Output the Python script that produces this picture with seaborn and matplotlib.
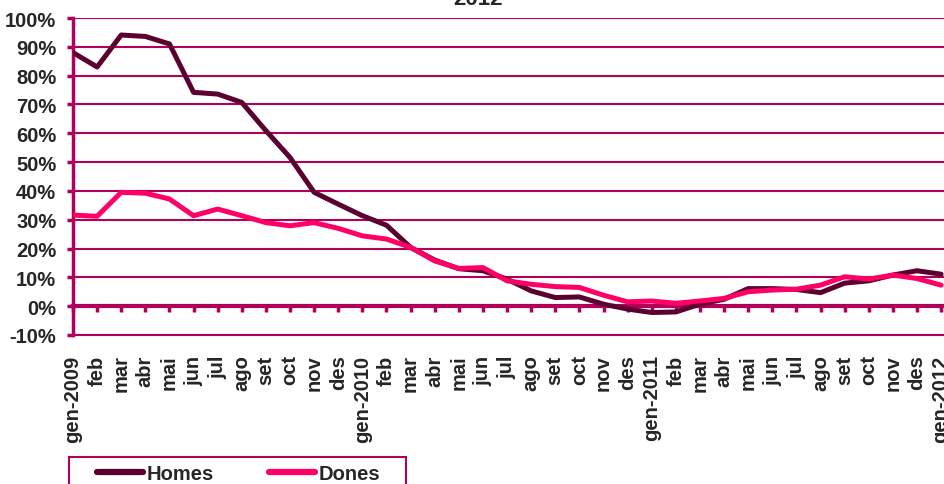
import pandas as pd
import seaborn as sns
import matplotlib.pyplot as plt
from matplotlib.patches import Rectangle

months = ['gen-2009', 'feb', 'mar', 'abr', 'mai', 'jun', 'jul', 'ago', 'set', 'oct', 'nov', 'des',
          'gen-2010', 'feb', 'mar', 'abr', 'mai', 'jun', 'jul', 'ago', 'set', 'oct', 'nov', 'des',
          'gen-2011', 'feb', 'mar', 'abr', 'mai', 'jun', 'jul', 'ago', 'set', 'oct', 'nov', 'des',
          'gen-2012']

homes = [88.0, 83.0, 94.1, 93.6, 91.0, 74.2, 73.6, 70.7, 60.9, 51.6, 39.5, 35.4,
         31.4, 28.1, 20.4, 16.0, 13.0, 12.3, 9.4, 5.3, 3.0, 3.2, 0.7, -1.0,
         -2.2, -2.0, 0.7, 2.4, 6.1, 6.1, 5.8, 4.7, 8.0, 8.8, 10.8, 12.3,
         11.1]

dones = [31.6, 31.2, 39.5, 39.2, 37.2, 31.4, 33.7, 31.4, 29.0, 27.9, 29.0, 27.0,
         24.4, 23.3, 20.4, 15.7, 13.1, 13.4, 8.8, 7.6, 6.8, 6.5, 3.8, 1.5,
         1.8, 1.0, 1.8, 2.7, 5.0, 5.6, 5.9, 7.3, 10.2, 9.4, 10.8, 9.6,
         7.3]

title = '2012'
series_names = ['Homes', 'Dones']
colors = ['#5C0030', '#FF0066']
crimson = '#B0005A'
fs = 14.5

x = list(range(len(months)))
df = pd.DataFrame({
    'x': x * 2,
    'val': homes + dones,
    'serie': ['Homes'] * len(x) + ['Dones'] * len(x),
})

sns.set_style('white')
plt.rcParams['font.family'] = ['Liberation Sans', 'DejaVu Sans']
plt.rcParams['font.weight'] = 'bold'

fig = plt.figure(figsize=(9.44, 4.85), dpi=100)
ax = fig.add_axes([73 / 944, (485 - 336) / 485, 1 - 73 / 944, (336 - 19) / 485])

sns.lineplot(data=df, x='x', y='val', hue='serie', hue_order=series_names,
             palette=colors, linewidth=3.6, ax=ax, zorder=3)

ax.set_xlim(0, 36.12)
ax.set_ylim(-10, 100)
ax.set_yticks(range(-10, 101, 10))
ax.set_yticklabels([f'{v}%' for v in range(-10, 101, 10)], fontsize=fs, fontweight='bold')
ax.yaxis.grid(True, color=crimson, linewidth=1.5)
ax.tick_params(axis='y', length=4, width=2.5, color=crimson, pad=8, left=True)
ax.set_xlabel('')
ax.set_ylabel('')

# bottom frame line at -10% carries the labels
for s in ['top', 'right']:
    ax.spines[s].set_visible(False)
ax.spines['left'].set_color(crimson)
ax.spines['left'].set_linewidth(2.5)
ax.spines['bottom'].set_color(crimson)
ax.spines['bottom'].set_linewidth(1.5)
ax.set_xticks(x)
ax.set_xticklabels(months, rotation=90, fontsize=fs, fontweight='bold', va='top')
ax.tick_params(axis='x', length=0, pad=14)

# zero axis with tick marks
zero = ax.secondary_xaxis(10 / 110)
zero.set_xticks(x)
zero.set_xticklabels([])
zero.spines['bottom'].set_color(crimson)
zero.spines['bottom'].set_linewidth(3)
zero.tick_params(axis='x', direction='out', length=4, width=2.5, color=crimson)

fig.text(478 / 944, (485 - 5) / 485, title, ha='center', va='baseline',
         fontsize=16, fontweight='bold')

handles, labels = ax.get_legend_handles_labels()
ax.get_legend().remove()
for h in handles:
    h.set_linewidth(4.5)
    h.set_solid_capstyle('round')
leg = fig.legend(handles, labels, loc='upper left', bbox_to_anchor=(97 / 944, 1 - 465 / 485),
                 ncol=2, frameon=False, prop={'size': fs, 'weight': 'bold'},
                 handlelength=2.3, handletextpad=0.15, columnspacing=2.75,
                 borderpad=0, borderaxespad=0)
fig.patches.append(Rectangle((69 / 944, -0.05), (406 - 69) / 944, 0.05 + (485 - 458) / 485,
                             transform=fig.transFigure, fill=False, edgecolor=crimson,
                             linewidth=1.5))

fig.savefig('out.png', dpi=100)
